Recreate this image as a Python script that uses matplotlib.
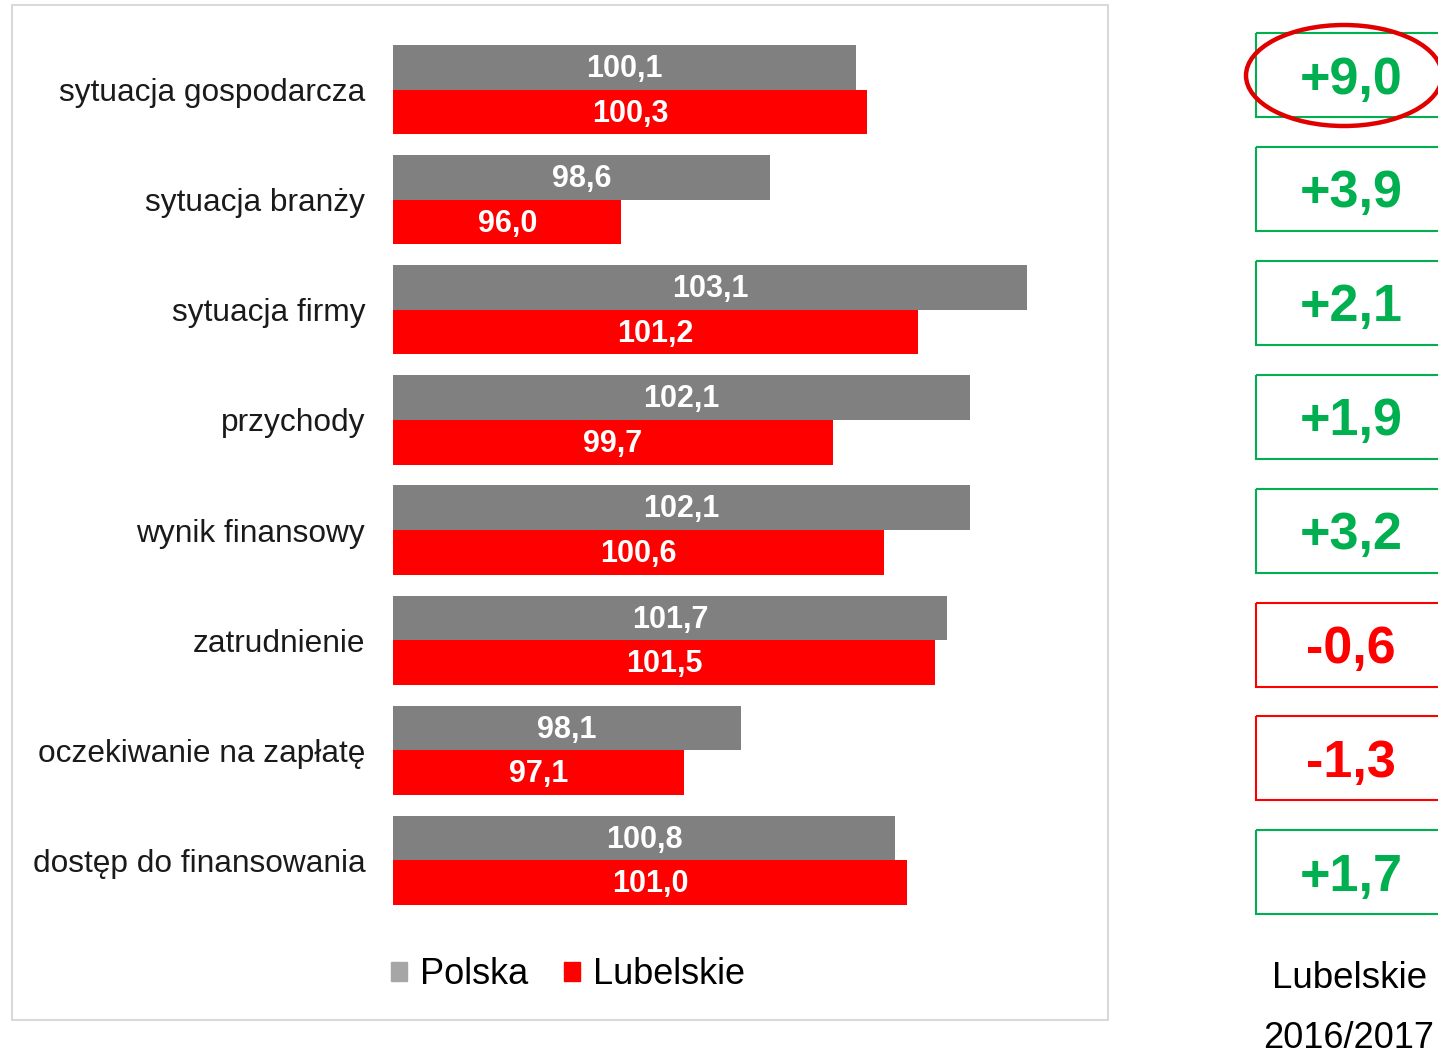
import matplotlib
matplotlib.use("Agg")
import matplotlib.pyplot as plt
from matplotlib.patches import Rectangle, Ellipse, Patch

plt.rcParams['font.family'] = ['Liberation Sans', 'DejaVu Sans']

categories = ["sytuacja gospodarcza", "sytuacja branży", "sytuacja firmy", "przychody",
              "wynik finansowy", "zatrudnienie", "oczekiwanie na zapłatę", "dostęp do finansowania"]
polska = [100.1, 98.6, 103.1, 102.1, 102.1, 101.7, 98.1, 100.8]
lubelskie = [100.3, 96.0, 101.2, 99.7, 100.6, 101.5, 97.1, 101.0]
changes = [9.0, 3.9, 2.1, 1.9, 3.2, -0.6, -1.3, 1.7]
series_names = ["Polska", "Lubelskie"]
side_title = ["Lubelskie", "2016/2017"]

GRAY = "#808080"
RED = "#FF0000"
GREEN = "#00B050"

W, H = 1438, 1055
fig = plt.figure(figsize=(W / 100, H / 100), dpi=100)

def fmt(v):
    return f"{v:.1f}".replace(".", ",")

# background overlay axes in pixel coordinates
bg = fig.add_axes([0, 0, 1, 1])
bg.set_xlim(0, W)
bg.set_ylim(H, 0)
bg.axis("off")
bg.add_patch(Rectangle((12, 5), 1096, 1015, fill=False, edgecolor="#D9D9D9", linewidth=1.5))

# bar axes
left_px, right_px, top_px, bot_px = 393, 1080, 34.5, 915.5
ax = fig.add_axes([left_px / W, 1 - bot_px / H, (right_px - left_px) / W, (bot_px - top_px) / H])
ax.patch.set_alpha(0)
xmin = 92.0
ax.set_xlim(xmin, xmin + (right_px - left_px) / 57.1)
n = len(categories)
ax.set_ylim(n - 0.5, -0.5)
bh = 0.405
ys = list(range(n))
ax.barh([y - bh / 2 for y in ys], [p - xmin for p in polska], left=xmin, height=bh, color=GRAY, label=series_names[0])
ax.barh([y + bh / 2 for y in ys], [l - xmin for l in lubelskie], left=xmin, height=bh, color=RED, label=series_names[1])
for y, p, l in zip(ys, polska, lubelskie):
    ax.text((xmin + p) / 2, y - bh / 2 + 0.015, fmt(p), ha="center", va="center", color="white",
            fontsize=22, fontweight="bold")
    ax.text((xmin + l) / 2, y + bh / 2 + 0.015, fmt(l), ha="center", va="center", color="white",
            fontsize=22, fontweight="bold")
ax.set_yticks(ys)
ax.set_yticklabels(categories, fontsize=22.8, color="#1a1a1a")
ax.tick_params(axis="y", length=0, pad=20)
ax.set_xticks([])
for s in ax.spines.values():
    s.set_visible(False)

handles = [Patch(color="#A6A6A6", label=series_names[0]), Patch(color=RED, label=series_names[1])]
fig.legend(handles=handles, loc="center", bbox_to_anchor=(568 / W, 1 - 975 / H),
           ncol=2, frameon=False, fontsize=26, handlelength=0.45, handleheight=0.45,
           handletextpad=0.35, columnspacing=1.0)

# right panel boxes
for i, c in enumerate(changes):
    col = GREEN if c >= 0 else RED
    top = 33 + i * 113.9
    bg.add_patch(Rectangle((1256, top), 200, 84, fill=False, edgecolor=col, linewidth=1.5))
    label = ("+" if c >= 0 else "-") + fmt(abs(c))
    bg.text(1351, top + 47, label, ha="center", va="center", color=col,
            fontsize=37.5, fontweight="bold")

bg.add_patch(Ellipse((1344, 75.5), 196, 101, fill=False, edgecolor="#E00000", linewidth=3.2))

bg.text(1350, 979, side_title[0], ha="center", va="center", fontsize=26.5, color="black")
bg.text(1349, 1038, side_title[1], ha="center", va="center", fontsize=26, color="black")

fig.savefig("out.png", dpi=100)
